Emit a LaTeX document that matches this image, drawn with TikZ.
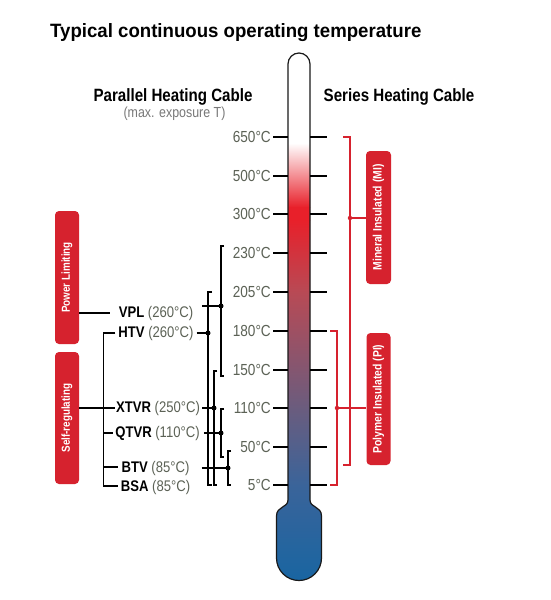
\documentclass[tikz,border=0pt]{standalone}
\usepackage{fontspec}
\setmainfont{Liberation Sans}
\newfontfamily\cnd[FakeStretch=0.85]{Liberation Sans}
\newfontfamily\ttl[FakeStretch=0.965]{Liberation Sans}
\definecolor{redc}{RGB}{214,34,46}
\definecolor{tgray}{RGB}{92,98,86}
\definecolor{sgray}{RGB}{120,120,120}
\definecolor{thR}{RGB}{232,32,42}
\definecolor{thA}{RGB}{184,74,85}
\definecolor{thB}{RGB}{106,92,126}
\definecolor{thC}{RGB}{58,100,154}
\definecolor{thD}{RGB}{22,101,162}
\begin{document}
\begin{tikzpicture}[x=1pt,y=-1pt,
  tmark/.style={line width=1.6pt,black},
  brk/.style={line width=1.5pt,black},
  rbrk/.style={line width=1.3pt,redc},
  bdot/.style={circle,fill=black,inner sep=0pt,minimum size=5pt},
  rdot/.style={circle,fill=redc,inner sep=0pt,minimum size=4.5pt},
  tlabel/.style={anchor=east,inner sep=0pt,text=tgray,font=\cnd\fontsize{16}{18}\selectfont},
  cab/.style={inner sep=0pt,font=\cnd\fontsize{15.4}{17}\selectfont},
  vbox/.style={fill=redc,rounded corners=4pt,inner sep=0pt},
  vtext/.style={rotate=90,text=white,font=\cnd\bfseries\fontsize{11.6}{13}\selectfont,inner sep=0pt}
]
\useasboundingbox[fill=white] (0,0) rectangle (550,600);

% title and headers
\node[anchor=base west,inner sep=0pt,font=\ttl\bfseries\fontsize{19.3}{22}\selectfont] (title) at (50,37.5) {Typical continuous operating temperature};
\node[anchor=base,inner sep=0pt,font=\cnd\bfseries\fontsize{17.8}{20}\selectfont] (phc) at (173,101.5) {Parallel Heating Cable};
\node[anchor=base,inner sep=0pt,text=sgray,font=\cnd\fontsize{14.6}{17}\selectfont] (mex) at (174.5,117.5) {(max. exposure T)};
\node[anchor=base,inner sep=0pt,font=\cnd\bfseries\fontsize{17.8}{20}\selectfont] (shc) at (399,101.5) {Series Heating Cable};

% thermometer
\def\thermopath{(288,64) arc[start angle=180,end angle=360,radius=11] -- (310,500)
  .. controls (310,508) and (321.5,506) .. (321.5,516) -- (321.5,558)
  arc[start angle=0,end angle=180,radius=22.5] -- (276.5,516)
  .. controls (276.5,506) and (288,508) .. (288,500) -- cycle}
\begin{scope}
  \clip \thermopath;
  \fill[white] (270,40) rectangle (330,143.5);
  \shade[top color=white,bottom color=thR] (270,143) rectangle (330,207.5);
  \fill[thR] (270,207) rectangle (330,220.5);
  \shade[top color=thR,bottom color=thA] (270,220) rectangle (330,292.5);
  \shade[top color=thA,bottom color=thB] (270,292) rectangle (330,408.5);
  \shade[top color=thB,bottom color=thC] (270,408) rectangle (330,485.5);
  \shade[top color=thC,bottom color=thD] (270,485) rectangle (330,590);
\end{scope}
\draw[line width=1.2pt,black!90] \thermopath;

% temperature scale
\foreach \t/\yy in {650/137,500/176,300/214,230/253,205/292,180/331,150/370,110/408,50/447,5/485}{
  \node[tlabel] (l\t) at (271,\yy) {\t°C};
  \draw[tmark] ([xshift=2pt]l\t.east) -- ++(15,0);
  \draw[tmark] ([xshift=39pt]l\t.east) -- ++(17,0);
}

% left category boxes
\node[vbox,minimum width=24pt,minimum height=133pt] (pl) at (67,277.5) {};
\node[vtext] (plt) at (pl) {Power Limiting};
\node[vbox,minimum width=24pt,minimum height=132pt] (sr) at (67,418) {};
\node[vtext] (srt) at (sr) {Self-regulating};

% cable labels
\node[cab] (vpl) at (156,314) {\textbf{VPL} \textcolor{tgray}{(260°C)}};
\node[cab] (htv) at (156,334) {\textbf{HTV} \textcolor{tgray}{(260°C)}};
\node[cab] (xtvr) at (158,409) {\textbf{XTVR} \textcolor{tgray}{(250°C)}};
\node[cab] (qtvr) at (157.5,434) {\textbf{QTVR} \textcolor{tgray}{(110°C)}};
\node[cab] (btv) at (155.5,469) {\textbf{BTV} \textcolor{tgray}{(85°C)}};
\node[cab] (bsa) at (155.5,488) {\textbf{BSA} \textcolor{tgray}{(85°C)}};

% left grouping
\coordinate (lv) at (103.5,0);
\draw[brk] (pl.east |- 0,313) -- ([xshift=-9pt]vpl.west |- 0,313);
\draw[brk] (sr.east |- 0,408) -- ([xshift=-1pt]xtvr.west |- 0,408);
\draw[brk] ([xshift=-3pt]htv.west |- 0,333) -- (lv |- 0,333) -- (lv |- 0,486) -- ([xshift=-3pt]bsa.west |- 0,486);
\draw[brk] (lv |- 0,433) -- ([xshift=-2pt]qtvr.west |- 0,433);
\draw[brk] (lv |- 0,467) -- ([xshift=-3pt]btv.west |- 0,467);

% range brackets
\coordinate (d1) at (221,306);
\coordinate (d2) at (208,333);
\coordinate (d3) at (214,408);
\coordinate (d4) at (221,433);
\coordinate (d5) at (228,468);
\draw[brk] (224,246) -- (221,246) -- (221,376) -- (224,376);
\draw[brk] (212,292) -- (208,292) -- (208,485) -- (212,485);
\draw[brk] (217,371) -- (214,371) -- (214,485) -- (217,485);
\draw[brk] (224,409) -- (221,409) -- (221,457) -- (224,457);
\draw[brk] (231,451) -- (228,451) -- (228,485) -- (231,485);
\draw[brk] ([xshift=9pt]vpl.east |- d1) -- (d1);
\draw[brk] ([xshift=3pt]htv.east |- d2) -- (d2);
\draw[brk] ([xshift=2pt]xtvr.east |- d3) -- (d3);
\draw[brk] ([xshift=4pt]qtvr.east |- d4) -- (d4);
\draw[brk] ([xshift=12pt]btv.east |- d5) -- (d5);
\foreach \d in {d1,d2,d3,d4,d5} \node[bdot] at (\d) {};

% series cable boxes
\node[vbox,minimum width=25pt,minimum height=133pt] (mi) at (378.5,217.5) {};
\node[vtext,font=\cnd\bfseries\fontsize{12.2}{14}\selectfont] (mit) at (mi) {Mineral Insulated (MI)};
\node[vbox,minimum width=24pt,minimum height=132pt] (pi) at (378.5,399) {};
\node[vtext,font=\cnd\bfseries\fontsize{12.2}{14}\selectfont] (pit) at (pi) {Polymer Insulated (PI)};

\coordinate (m1) at (350,218);
\coordinate (p1) at (337,408);
\draw[rbrk] (343,137) -- (350,137) -- (350,465) -- (343,465);
\draw[rbrk] (330,331) -- (337,331) -- (337,485) -- (330,485);
\draw[rbrk] (m1) -- (mi.west |- m1);
\draw[rbrk] (p1) -- (pi.west |- p1);
\node[rdot] at (m1) {};
\node[rdot] at (p1) {};
\end{tikzpicture}
\end{document}
